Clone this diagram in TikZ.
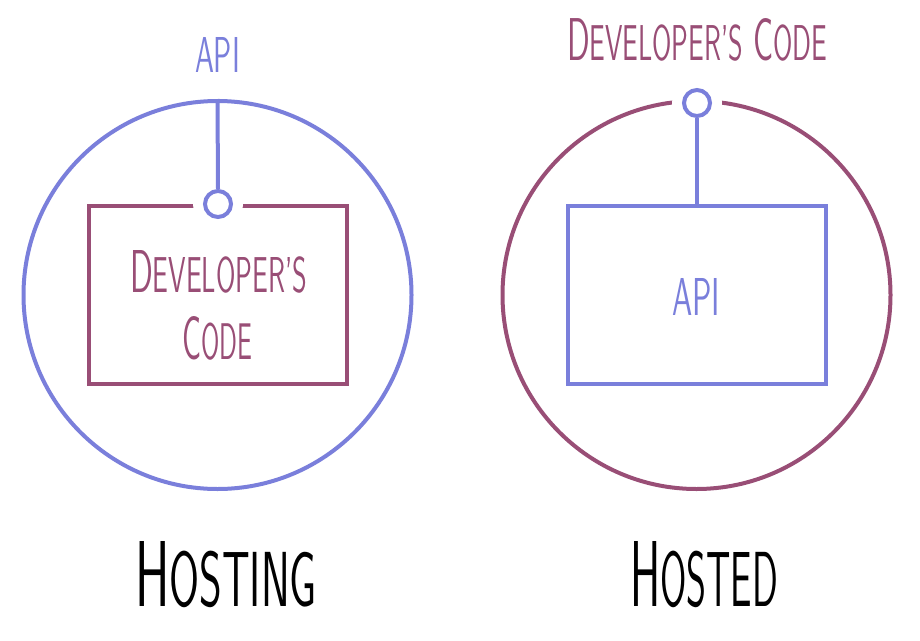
\documentclass[tikz,border=0pt]{standalone}
\usepackage{graphicx}
\definecolor{apiblue}{RGB}{122,127,219}
\definecolor{devpurple}{RGB}{153,78,118}
\newcommand{\bigsc}[1]{{\fontsize{60}{60}\selectfont #1}}
\newcommand{\smsc}[1]{{\fontsize{50}{50}\selectfont #1}}
\begin{document}
\begin{tikzpicture}[x=1pt,y=-1pt,
  lbl/.style={inner sep=0pt,outer sep=0pt,anchor=base west,font=\sffamily},
  bigcirc/.style={circle,draw,line width=4pt,minimum size=388pt,inner sep=0pt},
  box/.style={rectangle,draw,line width=4pt,minimum width=258pt,minimum height=178pt,inner sep=0pt},
  port/.style={circle,draw=apiblue,fill=white,line width=4pt,minimum size=26pt,inner sep=0pt},
  halo/.style={circle,fill=white,minimum size=50pt,inner sep=0pt},
  wire/.style={draw=apiblue,line width=4pt}]
\useasboundingbox (0,0) rectangle (920,640);
% ---- left: Hosting ----
\node[bigcirc,draw=apiblue] (c1) at (217.5,295) {};
\node[box,draw=devpurple] (r1) at (217.5,295) {};
\node[halo] (h1) at (218,204) {};
\node[port] (s1) at (218,204) {};
\draw[wire] (c1.north) -- (s1.north);
\node[lbl,text=apiblue] (api1) at (195,72) {\resizebox{45pt}{35pt}{API}};
\node[lbl,text=devpurple] (dev1) at (130,292) {\resizebox{177pt}{42pt}{\bigsc{D}\smsc{EVELOPER’S}}};
\node[lbl,text=devpurple] (code1) at (182,359) {\resizebox{70pt}{43pt}{\bigsc{C}\smsc{ODE}}};
\node[lbl] (hosting) at (135,606) {\resizebox{182pt}{65pt}{\bigsc{H}\smsc{OSTING}}};
% ---- right: Hosted ----
\node[bigcirc,draw=devpurple] (c2) at (696.5,295) {};
\node[box,draw=apiblue] (r2) at (697,295) {};
\node[halo] (h2) at (697,103) {};
\node[port] (s2) at (697,103) {};
\draw[wire] (s2.south) -- (r2.north);
\node[lbl,text=devpurple] (dev2) at (567,60) {\resizebox{260pt}{42pt}{\bigsc{D}\smsc{EVELOPER’S}\hspace{18pt}\bigsc{C}\smsc{ODE}}};
\node[lbl,text=apiblue] (api2) at (672,315) {\resizebox{48pt}{37pt}{API}};
\node[lbl] (hosted) at (630,606) {\resizebox{148pt}{65pt}{\bigsc{H}\smsc{OSTED}}};
\end{tikzpicture}
\end{document}
